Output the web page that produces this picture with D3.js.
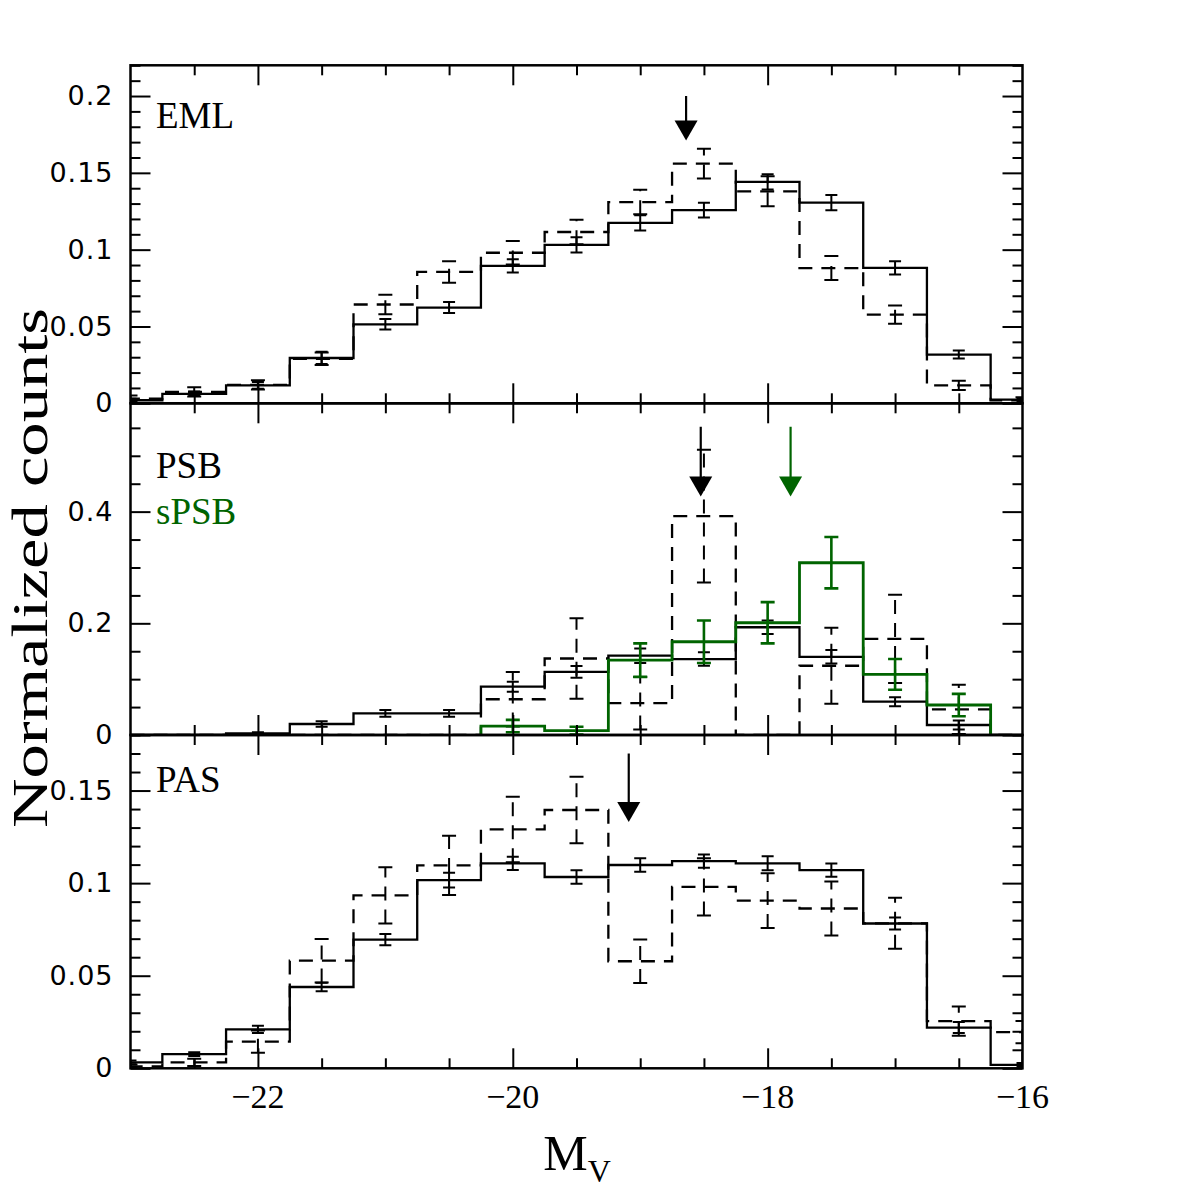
<!DOCTYPE html>
<html>
<head>
<meta charset="utf-8">
<script src="https://cdn.jsdelivr.net/npm/d3@7"></script>
<style>
  body { margin: 0; background: #fff; }
  svg { display: block; }
</style>
</head>
<body>
<svg id="chart" width="1196" height="1196"></svg>
<script>
// bin centres (M_V), bins are 0.5 mag wide
var magBins = [-23, -22.5, -22, -21.5, -21, -20.5, -20, -19.5, -19, -18.5, -18, -17.5, -17, -16.5, -16];

// EML panel
var emlSolid     = [0.002, 0.0062, 0.0117, 0.0295, 0.0514, 0.0623, 0.0894, 0.1031, 0.1174, 0.1257, 0.1441, 0.1306, 0.0881, 0.0317, 0.0024];
var emlSolidErr  = [0.001, 0.0015, 0.0022, 0.004, 0.0034, 0.0036, 0.0043, 0.005, 0.005, 0.0048, 0.005, 0.005, 0.0043, 0.0026, 0.001];
var emlDashed    = [0.003, 0.0075, 0.012, 0.029, 0.0643, 0.0855, 0.098, 0.1115, 0.131, 0.156, 0.138, 0.088, 0.0577, 0.0117, 0.002];
var emlDashedErr = [0.002, 0.003, 0.003, 0.004, 0.0064, 0.007, 0.0076, 0.008, 0.008, 0.0097, 0.0098, 0.0078, 0.006, 0.003, 0.002];

// PSB panel (black) and sPSB (green)
var psbSolid     = [0, 0, 0.003, 0.0197, 0.0388, 0.0388, 0.0865, 0.113, 0.142, 0.136, 0.193, 0.140, 0.0597, 0.0179, 0];
var psbSolidErr  = [0, 0, 0.002, 0.005, 0.006, 0.006, 0.009, 0.0104, 0.013, 0.012, 0.012, 0.012, 0.008, 0.008, 0];
var psbDashed    = [0, 0, 0, 0, 0, 0, 0.064, 0.137, 0.057, 0.392, 0, 0.124, 0.172, 0.046, 0];
var psbDashedErr = [0, 0, 0, 0, 0, 0, 0.049, 0.072, 0.047, 0.119, 0, 0.068, 0.079, 0.044, 0];
var spsbValues   = [null, null, null, null, null, null, 0.016, 0.0077, 0.134, 0.167, 0.201, 0.3085, 0.1086, 0.0537, null];
var spsbErr      = [0, 0, 0, 0, 0, 0, 0.011, 0.007, 0.03, 0.038, 0.037, 0.046, 0.0275, 0.02, 0];

// PAS panel
var pasSolid     = [0.0032, 0.0077, 0.021, 0.0439, 0.0695, 0.1016, 0.1107, 0.1033, 0.1098, 0.1119, 0.1107, 0.107, 0.0782, 0.022, 0.0018];
var pasSolidErr  = [0.001, 0.001, 0.002, 0.0023, 0.003, 0.004, 0.0036, 0.0036, 0.0037, 0.0036, 0.0038, 0.0036, 0.0032, 0.003, 0.001];
var pasDashed    = [0.001, 0.0032, 0.0144, 0.0581, 0.0934, 0.1096, 0.129, 0.1395, 0.0578, 0.098, 0.0906, 0.0863, 0.0783, 0.0255, 0.0195];
var pasDashedErr = [0.001, 0.002, 0.006, 0.0117, 0.0152, 0.016, 0.0177, 0.018, 0.0118, 0.0155, 0.0148, 0.0146, 0.0138, 0.0079, 0.006];

// median arrows
var arrowPanel = ["EML", "PSB", "PSB", "PAS"];
var arrowMag   = [-18.64, -18.525, -17.82, -19.09];
var arrowFrom  = [0.2, 0.552, 0.552, 0.17];
var arrowTo    = [0.171, 0.427, 0.427, 0.133];
var arrowGreen = [false, false, true, false];

// axis ticks
var xMajorTicks = [-22, -20, -18];
var xTickLabels = [-22, -20, -18, -16];
var yMajorTicks = {
  EML: [0, 0.05, 0.1, 0.15, 0.2],
  PSB: [0, 0.2, 0.4],
  PAS: [0, 0.05, 0.1, 0.15]
};

var green = "#006400";
var dash = "14,9";

var svg = d3.select("#chart");
var left = 130.5, right = 1022.5;

var x = d3.scaleLinear().domain([-23, -16]).range([left, right]);

var panels = [
  {name: "EML", top: 65.3, bottom: 403.3, yMax: 0.22, minor: 0.01,
   solid: emlSolid, solidErr: emlSolidErr, dashed: emlDashed, dashedErr: emlDashedErr},
  {name: "PSB", top: 403.3, bottom: 735, yMax: 0.594, minor: 0.05,
   solid: psbSolid, solidErr: psbSolidErr, dashed: psbDashed, dashedErr: psbDashedErr},
  {name: "PAS", top: 735, bottom: 1068.3, yMax: 0.18, minor: 0.01,
   solid: pasSolid, solidErr: pasSolidErr, dashed: pasDashed, dashedErr: pasDashedErr}
];

var xMinor = [];
for (var k = 1; k < 14; k++) {
  var m = -23 + k * 0.5;
  if (xMajorTicks.indexOf(m) < 0) xMinor.push(m);
}

function fmtY(d) {
  return d === 0 ? "0" : String(parseFloat(d.toFixed(2)));
}

// step outline of a histogram (skips null bins at the ends)
function stepPoints(vals) {
  var pts = [];
  var first = -1, last = -1;
  for (var i = 0; i < vals.length; i++) {
    if (vals[i] == null) continue;
    if (first < 0) first = i;
    last = i;
  }
  for (var i = first; i <= last; i++) {
    var x0 = Math.max(magBins[i] - 0.25, -23);
    var x1 = Math.min(magBins[i] + 0.25, -16);
    if (i === first) pts.push([x0, 0]);
    pts.push([x0, vals[i]]);
    pts.push([x1, vals[i]]);
    if (i === last) pts.push([x1, 0]);
  }
  return pts;
}

function drawHist(g, vals, y, color, dashed, width) {
  var line = d3.line()
    .x(function (d) { return x(d[0]); })
    .y(function (d) { return y(d[1]); });
  g.append("path")
    .attr("d", line(stepPoints(vals)))
    .attr("fill", "none")
    .attr("stroke", color)
    .attr("stroke-width", width)
    .attr("stroke-dasharray", dashed ? dash : null);
}

function drawErrors(g, vals, errs, y, color, dashed, width, capHalf) {
  var data = [];
  for (var i = 0; i < vals.length; i++) {
    if (vals[i] == null || !errs[i]) continue;
    data.push({m: magBins[i], v: vals[i], e: errs[i]});
  }
  var eg = g.append("g")
    .attr("stroke", color)
    .attr("stroke-width", width)
    .attr("fill", "none")
    .attr("stroke-dasharray", dashed ? dash : null);
  eg.selectAll("path")
    .data(data)
    .enter()
    .append("path")
    .attr("d", function (d) {
      var cx = x(d.m), lo = y(d.v - d.e), hi = y(d.v + d.e);
      return "M" + cx + "," + lo + "V" + hi +
        "M" + (cx - capHalf) + "," + hi + "H" + (cx + capHalf) +
        "M" + (cx - capHalf) + "," + lo + "H" + (cx + capHalf);
    });
}

function tidy(sel) {
  sel.select(".domain").remove();
  sel.selectAll(".tick line").attr("stroke", "#000").attr("stroke-width", 2);
}

panels.forEach(function (p) {
  var y = d3.scaleLinear().domain([0, p.yMax]).range([p.bottom, p.top]);
  p.y = y;

  var yMinor = [];
  var nMinor = Math.floor(p.yMax / p.minor + 1e-6);
  for (var k = 1; k <= nMinor; k++) {
    var t = parseFloat((k * p.minor).toFixed(3));
    if (yMajorTicks[p.name].indexOf(t) < 0) yMinor.push(t);
  }

  var clipId = "clip-" + p.name;
  svg.append("clipPath").attr("id", clipId)
    .append("rect")
    .attr("x", left).attr("y", p.top)
    .attr("width", right - left).attr("height", p.bottom - p.top);

  var g = svg.append("g").attr("clip-path", "url(#" + clipId + ")");

  drawHist(g, p.dashed, y, "#000", true, 2.3);
  drawErrors(g, p.dashed, p.dashedErr, y, "#000", true, 2, 7);
  drawHist(g, p.solid, y, "#000", false, 2.3);
  drawErrors(g, p.solid, p.solidErr, y, "#000", false, 2, 6);

  if (p.name === "PSB") {
    drawHist(g, spsbValues, y, green, false, 2.8);
    drawErrors(g, spsbValues, spsbErr, y, green, false, 2.6, 7);
  }

  // ticks on all four sides, pointing inward
  var axes = svg.append("g");

  axes.append("g").attr("transform", "translate(" + left + ",0)")
    .call(d3.axisLeft(y).tickValues(yMajorTicks[p.name]).tickSize(-20).tickPadding(17).tickFormat(fmtY))
    .call(tidy)
    .selectAll("text")
    .style("font-family", "'DejaVu Sans', sans-serif")
    .style("font-size", "27px")
    .style("letter-spacing", "1px")
    .attr("fill", "#000");
  axes.append("g").attr("transform", "translate(" + left + ",0)")
    .call(d3.axisLeft(y).tickValues(yMinor).tickSize(-10).tickFormat(""))
    .call(tidy);
  axes.append("g").attr("transform", "translate(" + right + ",0)")
    .call(d3.axisRight(y).tickValues(yMajorTicks[p.name]).tickSize(-20).tickFormat(""))
    .call(tidy);
  axes.append("g").attr("transform", "translate(" + right + ",0)")
    .call(d3.axisRight(y).tickValues(yMinor).tickSize(-10).tickFormat(""))
    .call(tidy);

  axes.append("g").attr("transform", "translate(0," + p.top + ")")
    .call(d3.axisTop(x).tickValues(xMajorTicks).tickSize(-20).tickFormat(""))
    .call(tidy);
  axes.append("g").attr("transform", "translate(0," + p.top + ")")
    .call(d3.axisTop(x).tickValues(xMinor).tickSize(-10).tickFormat(""))
    .call(tidy);
  axes.append("g").attr("transform", "translate(0," + p.bottom + ")")
    .call(d3.axisBottom(x).tickValues(xMajorTicks).tickSize(-20).tickFormat(""))
    .call(tidy);
  axes.append("g").attr("transform", "translate(0," + p.bottom + ")")
    .call(d3.axisBottom(x).tickValues(xMinor).tickSize(-10).tickFormat(""))
    .call(tidy);

  // frame
  svg.append("rect")
    .attr("x", left).attr("y", p.top)
    .attr("width", right - left).attr("height", p.bottom - p.top)
    .attr("fill", "none").attr("stroke", "#000").attr("stroke-width", 2.5);
});

// x tick labels under the bottom panel (including the edge at -16)
svg.append("g")
  .selectAll("text")
  .data(xTickLabels)
  .enter()
  .append("text")
  .attr("x", function (d) { return x(d); })
  .attr("y", 1108)
  .attr("text-anchor", "middle")
  .style("font-family", "'Liberation Serif', serif")
  .style("font-size", "34px")
  .text(function (d) { return "\u2212" + Math.abs(d); });

// panel labels
function panelText(txt, px, py, color) {
  svg.append("text")
    .attr("x", px).attr("y", py)
    .style("font-family", "'Liberation Serif', serif")
    .style("font-size", "37px")
    .attr("fill", color)
    .text(txt);
}
panelText("EML", 156, 128, "#000");
panelText("PSB", 156, 478, "#000");
panelText("sPSB", 156, 524, green);
panelText("PAS", 156, 792, "#000");

// arrows
var panelByName = {};
panels.forEach(function (p) { panelByName[p.name] = p; });
arrowMag.forEach(function (m, i) {
  var p = panelByName[arrowPanel[i]];
  var col = arrowGreen[i] ? green : "#000";
  var ax = x(m), y0 = p.y(arrowFrom[i]), y1 = p.y(arrowTo[i]);
  svg.append("line")
    .attr("x1", ax).attr("x2", ax)
    .attr("y1", y0).attr("y2", y1 - 10)
    .attr("stroke", col).attr("stroke-width", 2.2);
  svg.append("path")
    .attr("d", "M" + (ax - 11.5) + "," + (y1 - 20) + "L" + (ax + 11.5) + "," + (y1 - 20) + "L" + ax + "," + y1 + "Z")
    .attr("fill", col);
});

// axis titles
svg.append("text")
  .attr("transform", "translate(47,568) rotate(-90)")
  .attr("text-anchor", "middle")
  .attr("textLength", 520)
  .attr("lengthAdjust", "spacingAndGlyphs")
  .style("font-family", "'Liberation Serif', serif")
  .style("font-size", "50px")
  .text("Normalized counts");

var mv = svg.append("text")
  .attr("x", 577).attr("y", 1170)
  .attr("text-anchor", "middle")
  .style("font-family", "'Liberation Serif', serif")
  .style("font-size", "50px");
mv.append("tspan").text("M");
mv.append("tspan").attr("dy", 12).style("font-size", "32px").text("V");
</script>
</body>
</html>
